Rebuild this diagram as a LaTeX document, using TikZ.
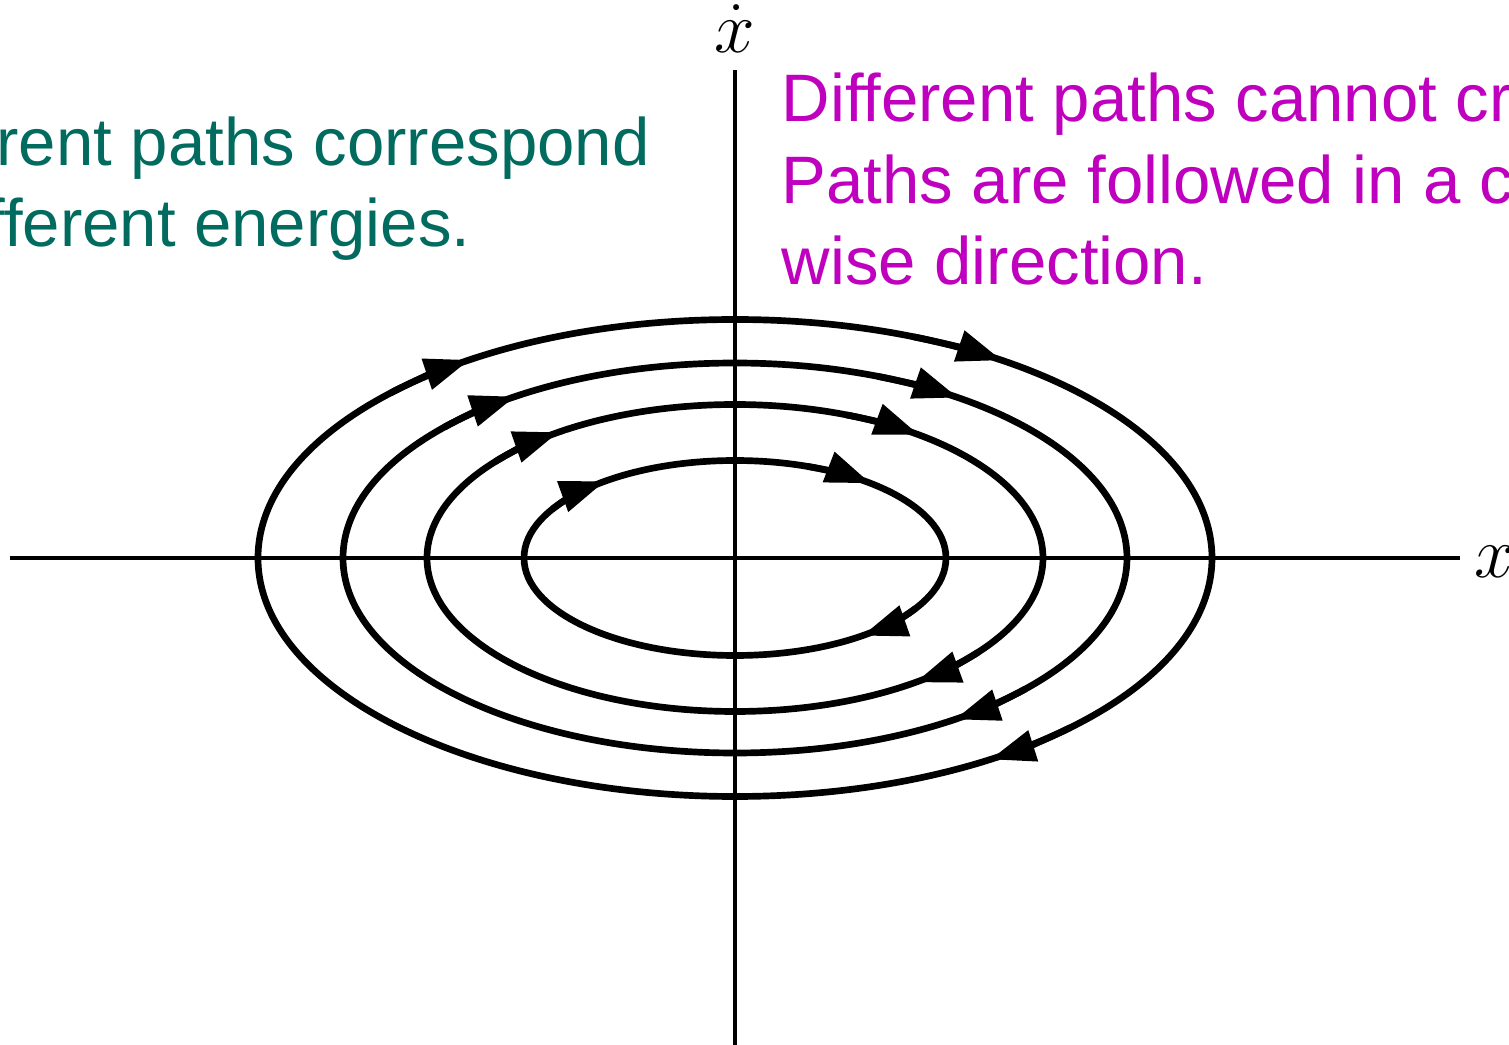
\documentclass[tikz,border=0pt]{standalone}
\usepackage{fontspec}
\setmainfont{Liberation Sans}
\usetikzlibrary{arrows.meta}
\definecolor{energygreen}{RGB}{0,107,94}
\definecolor{pathmagenta}{RGB}{191,0,191}
\tikzset{
  orbit/.style={line width=1.9pt,black},
  note/.style={anchor=base west,align=left,inner sep=0pt,
    font=\fontsize{19.1}{23.3}\selectfont}
}

\begin{document}
\begin{tikzpicture}[>={Triangle[length=4.5mm,width=3.1mm]}]
  \useasboundingbox (-7.35,-4.87) rectangle (7.74,5.58);
  \clip (-7.35,-4.87) rectangle (7.74,5.58);
  \coordinate (O) at (0,0);
  \coordinate (xl) at (-7.25,0);
  \coordinate (xr) at (7.25,0);
  \coordinate (yb) at (0,-4.87);
  \coordinate (yt) at (0,4.88);
  \draw[line width=1pt] (xl)--(xr);
  \draw[line width=1pt] (yb)--(yt);
  \node (xlab) at (7.6,-0.04) {\fontsize{20}{24}\selectfont$x$};
  \node (xdotlab) at (0,5.29) {\fontsize{20}{24}\selectfont$\dot{x}$};
  \foreach \rx/\ry/\a/\b/\c in {4.77/2.385/127/59/-54.5,3.92/1.95/128/59/-52,3.08/1.535/130/58/-49,2.11/0.975/136/57/-45}{
    \draw[orbit] (O) ellipse[x radius=\rx,y radius=\ry];
    \foreach \p in {\a,\b,\c}{
      \pgfmathsetmacro\d{12.9/sqrt((\rx*sin(\p))^2+(\ry*cos(\p))^2)}
      \draw[orbit,->] ({\rx*cos(\p+\d+6)},{\ry*sin(\p+\d+6)}) arc[start angle=\p+\d+6,end angle=\p-\d,x radius=\rx,y radius=\ry];
    }
  }
  \node[note,text=energygreen] (energy) at (-8.76,3.11) {Different paths correspond\\to different energies.};
  \node[note,text=pathmagenta] (cross) at (0.46,2.73) {Different paths cannot cross.\\Paths are followed in a clock-\\wise direction.};
\end{tikzpicture}
\end{document}
